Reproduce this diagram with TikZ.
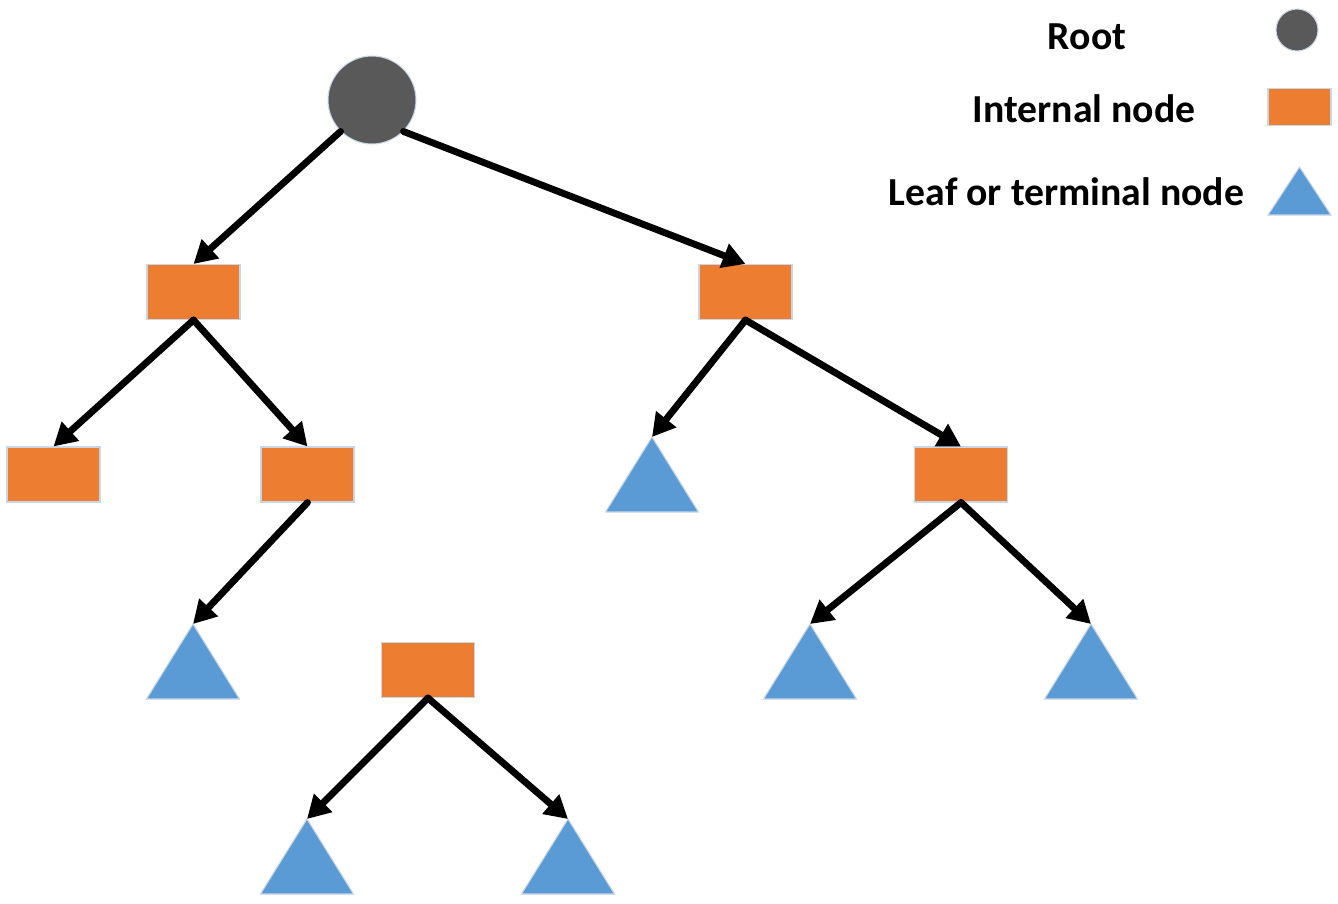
\documentclass[tikz,border=0pt]{standalone}
\usepackage{fontspec}
\setmainfont{Carlito}
\usetikzlibrary{arrows.meta}
\definecolor{rootgray}{HTML}{595959}
\definecolor{intorange}{HTML}{ED7D31}
\definecolor{leafblue}{HTML}{5B9BD5}
\definecolor{shadowc}{HTML}{C9D6E6}
\tikzset{
  rootnode/.style={circle, fill=rootgray, draw=shadowc, line width=0.6pt, minimum size=1.76cm, inner sep=0pt},
  intnode/.style={rectangle, fill=intorange, draw=shadowc, line width=0.6pt, minimum width=1.86cm, minimum height=1.1cm, inner sep=0pt},
  leafshape/.style={fill=leafblue, draw=shadowc, line width=0.6pt, line join=miter},
  edge/.style={line width=3.9pt, line cap=round, -{Triangle[length=13pt,width=14pt]}},
  legtext/.style={font=\bfseries\fontsize{22.6}{26}\selectfont, anchor=base, inner sep=0pt},
}
\begin{document}
\begin{tikzpicture}[x=0.02cm, y=-0.02cm]
\useasboundingbox (0,0) rectangle (1338,903);
% nodes
\node[rootnode] (root) at (372,100) {};
\node[intnode] (A) at (193.5,292) {};
\node[intnode] (B) at (745.5,292) {};
\node[intnode] (C) at (53.5,474.5) {};
\node[intnode] (D) at (307.5,474.5) {};
\node[intnode] (E) at (961,474.5) {};
\node[intnode] (F) at (428,670) {};
% leaves
\coordinate (T1) at (652,437);
\coordinate (T2) at (193,624);
\coordinate (T3) at (810,624);
\coordinate (T4) at (1091,624);
\coordinate (T5) at (307,819);
\coordinate (T6) at (568,819);
\foreach \t in {T1,T2,T3,T4,T5,T6}{
  \filldraw[leafshape] (\t) -- ++(-46.5,75) -- ++(93,0) -- cycle;
}
% edges
\draw[edge] (root.-135) -- (A.north);
\draw[edge] (root.-45) -- (B.north);
\draw[edge] (A.south) -- (C.north);
\draw[edge] (A.south) -- (D.north);
\draw[edge] (D.south) -- (T2);
\draw[edge] (B.south) -- (T1);
\draw[edge] (B.south) -- (E.north);
\draw[edge] (E.south) -- (T3);
\draw[edge] (E.south) -- (T4);
\draw[edge] (F.south) -- (T5);
\draw[edge] (F.south) -- (T6);
% legend
\node[legtext] (lroot) at (1087,49) {Root};
\node[legtext] (lint) at (1084,122) {Internal node};
\node[legtext] (lleaf) at (1066.5,205) {Leaf or terminal node};
\node[rootnode, minimum size=0.84cm] (kroot) at (1297,30) {};
\node[intnode, minimum width=1.26cm, minimum height=0.74cm] (kint) at (1299.5,107) {};
\coordinate (kleaf) at (1299.5,167);
\filldraw[leafshape] (kleaf) -- ++(-31.5,48) -- ++(63,0) -- cycle;
\end{tikzpicture}
\end{document}
